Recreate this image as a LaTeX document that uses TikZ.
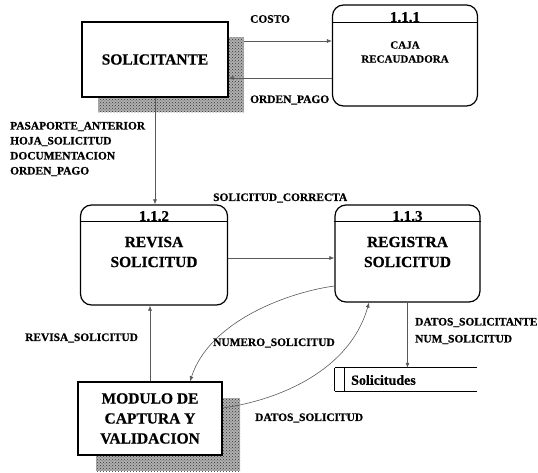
\documentclass[tikz,border=0pt]{standalone}
\usepackage{fontspec}
\setmainfont{Liberation Serif}[BoldFeatures={FakeBold=0.6}]
\usetikzlibrary{arrows.meta,calc,patterns}

\begin{document}
\begin{tikzpicture}[x=1pt,y=-1pt,
  lbl/.style={font=\bfseries\fontsize{11.4}{12}\selectfont, inner sep=0pt, anchor=west},
  ent/.style={draw, line width=1.2pt, fill=white, inner sep=0pt,
    font=\bfseries\fontsize{15.5}{18}\selectfont, align=center},
  boxshadow/.style={fill=gray!62, postaction={pattern=crosshatch dots, pattern color=black!80},
    inner sep=0pt},
  proc/.style={draw, line width=1.2pt, rounded corners=11pt, fill=white, inner sep=0pt},
  ptitle/.style={font=\bfseries\fontsize{15.5}{20}\selectfont, align=center, inner sep=0pt},
  ptitlesm/.style={font=\bfseries\fontsize{11}{14}\selectfont, align=center, inner sep=0pt},
  pnum/.style={font=\bfseries\fontsize{15}{16}\selectfont, inner sep=0pt, anchor=base},
  flow/.style={draw=black!65, line width=0.6pt, -{Latex[length=5pt,width=4pt]}},
  storeline/.style={draw, line width=1pt}
]
\useasboundingbox (0,0) rectangle (538,473);

% external entity: SOLICITANTE
\node[boxshadow, minimum width=146, minimum height=75] (solsh) at (171,75) {};
\node[ent, minimum width=146, minimum height=75] (sol) at (155,59.5) {SOLICITANTE};

% process 1.1.1
\node[proc, minimum width=145, minimum height=101] (caja) at (405,55.5) {};
\draw[line width=1.2pt] ($(caja.north west)+(0,18)$) -- ($(caja.north east)+(0,18)$);
\node[pnum] (cajan) at (405,22) {1.1.1};
\node[ptitlesm] (cajat) at (405,52) {CAJA\\RECAUDADORA};

% process 1.1.2
\node[proc, minimum width=147, minimum height=100] (p112) at (154,255) {};
\draw[line width=1.2pt] ($(p112.north west)+(0,17)$) -- ($(p112.north east)+(0,17)$);
\node[pnum] (p112n) at (154,221) {1.1.2};
\node[ptitle] (p112t) at (154,252) {REVISA\\SOLICITUD};

% process 1.1.3
\node[proc, minimum width=145, minimum height=97] (p113) at (407.5,253.5) {};
\draw[line width=1.2pt] ($(p113.north west)+(0,17)$) -- ($(p113.north east)+(0,17)$);
\node[pnum] (p113n) at (407.5,221) {1.1.3};
\node[ptitle] (p113t) at (407.5,252) {REGISTRA\\SOLICITUD};

% external entity: MODULO DE CAPTURA Y VALIDACION
\node[boxshadow, minimum width=144, minimum height=73] (modsh) at (168,434.5) {};
\node[ent, minimum width=144, minimum height=73,
  font=\bfseries\fontsize{15.5}{20}\selectfont] (mod) at (150,418.5) {MODULO DE\\CAPTURA Y\\VALIDACION};

% data store: Solicitudes
\node[minimum width=142, minimum height=23, inner sep=0pt] (store) at (406,379.5) {};
\draw[storeline] (store.north west) -- (store.north east);
\draw[storeline] (store.south west) -- (store.south east);
\draw[storeline] (store.north west) -- (store.south west);
\draw[storeline] ($(store.north west)+(10,0)$) -- ($(store.south west)+(10,0)$);
\node[anchor=west, inner sep=0pt, font=\bfseries\fontsize{14}{16}\selectfont] (storet) at (351,380) {Solicitudes};

% helper levels for the connectors
\coordinate (costoy) at (0,41);
\coordinate (ordeny) at (0,78);
\coordinate (correctay) at (0,258);
\coordinate (numy) at (0,286);
\coordinate (numx) at (190,0);
\coordinate (datosy) at (0,408);
\coordinate (datosx) at (369,0);

% data flows
\draw[flow] (solsh.east |- costoy) -- (caja.west |- costoy);
\draw[flow] (caja.west |- ordeny) -- (sol.east |- ordeny);
\draw[flow] (sol.south) -- (sol.south |- p112.north);
\draw[flow] (p112.east |- correctay) -- (p113.west |- correctay);
\draw[flow] (mod.north) -- (mod.north |- p112.south);
\draw[flow] (p113.south) -- (p113.south |- store.north);
\draw[flow] (p113.west |- numy) .. controls (290,292) and (210,320) .. (mod.north -| numx);
\draw[flow] (mod.east |- datosy) .. controls (280,400) and (350,370) .. (p113.south -| datosx);

% flow labels
\node[lbl] (lcosto) at (250,19) {COSTO};
\node[lbl] (lorden) at (250,100) {ORDEN\_PAGO};
\node[lbl, align=left, font=\bfseries\fontsize{11.4}{15}\selectfont] (ldocs) at (10,149)
  {PASAPORTE\_ANTERIOR\\HOJA\_SOLICITUD\\DOCUMENTACION\\ORDEN\_PAGO};
\node[lbl] (lcorrecta) at (213,198) {SOLICITUD\_CORRECTA};
\node[lbl] (lrevisa) at (25,338) {REVISA\_SOLICITUD};
\node[lbl] (lnumero) at (213,343) {NUMERO\_SOLICITUD};
\node[lbl, align=left, font=\bfseries\fontsize{11.4}{17}\selectfont] (ldatosreg) at (415,331)
  {DATOS\_SOLICITANTE\\NUM\_SOLICITUD};
\node[lbl] (ldatos) at (255,418) {DATOS\_SOLICITUD};
\end{tikzpicture}
\end{document}
